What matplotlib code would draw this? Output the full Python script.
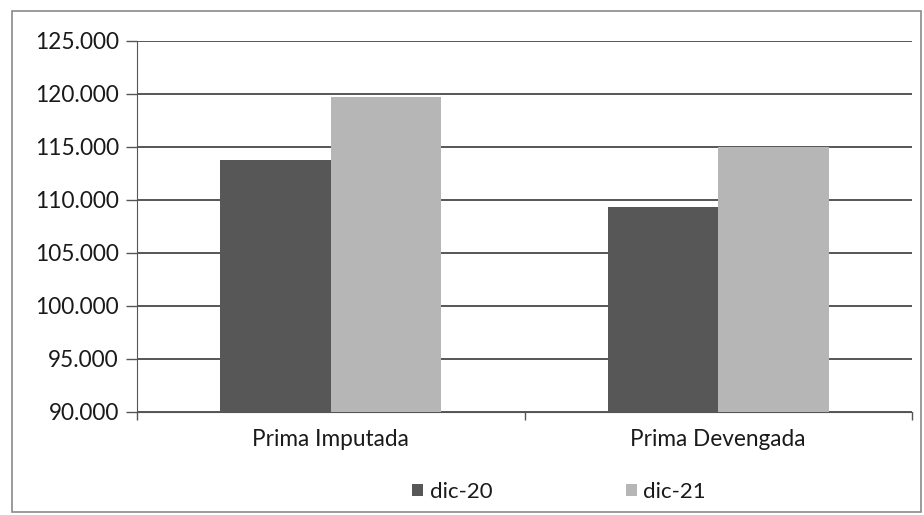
import matplotlib
matplotlib.use("Agg")
import matplotlib.pyplot as plt
import numpy as np
from matplotlib.patches import Rectangle

categories = ["Prima Imputada", "Prima Devengada"]
series_names = ["dic-20", "dic-21"]
dic20 = [113.8, 109.3]
dic21 = [119.7, 115.0]
yticks = [90, 95, 100, 105, 110, 115, 120, 125]
ytick_labels = ["90.000", "95.000", "100.000", "105.000", "110.000", "115.000", "120.000", "125.000"]
colors = ["#575757", "#b6b6b6"]

plt.rcParams['font.family'] = ['Lato', 'DejaVu Sans']

fig = plt.figure(figsize=(9.24, 5.15), dpi=100)
ax = fig.add_axes([137/924, 1 - 412/515, (912-137)/924, (412-41)/515])

x = np.arange(len(categories))
w = 0.285
ax.bar(x - w/2, dic20, width=w, color=colors[0], label=series_names[0], zorder=3)
ax.bar(x + w/2, dic21, width=w, color=colors[1], label=series_names[1], zorder=3)

ax.set_xlim(-0.5, 1.5)
ax.set_ylim(90, 125)
ax.set_yticks(yticks)
ax.set_yticklabels(ytick_labels, fontsize=16.3, color="#1a1a1a")
ax.yaxis.grid(True, color="#3a3a3a", linewidth=1.2, zorder=0)
ax.set_axisbelow(True)

ax.set_xticks([-0.5, 0.5, 1.5])
ax.set_xticklabels([])
ax.set_xticks(x, minor=True)
ax.set_xticklabels(categories, minor=True, fontsize=16.3, color="#1a1a1a")
ax.tick_params(axis='x', which='minor', length=0, pad=12)
ax.tick_params(axis='x', which='major', length=6, color="#555555", width=1)
ax.tick_params(axis='y', length=8, color="#555555", width=1, pad=5)

for s in ["top", "right"]:
    ax.spines[s].set_visible(False)
ax.spines["left"].set_color("#555555")
ax.spines["bottom"].set_color("#555555")

leg = fig.legend(loc="center", bbox_to_anchor=(559/924, 1 - 492/515), ncol=2,
                 frameon=False, fontsize=16, handlelength=0.5, handleheight=0.5,
                 columnspacing=6.0, handletextpad=0.3)
for t in leg.get_texts():
    t.set_color("#1a1a1a")

fig.patches.append(Rectangle((12/924, 3/515), (921-12)/924, (504-3)/515,
                             transform=fig.transFigure, fill=False,
                             edgecolor="#8a8a8a", linewidth=1.2))

fig.savefig("out.png", dpi=100)
